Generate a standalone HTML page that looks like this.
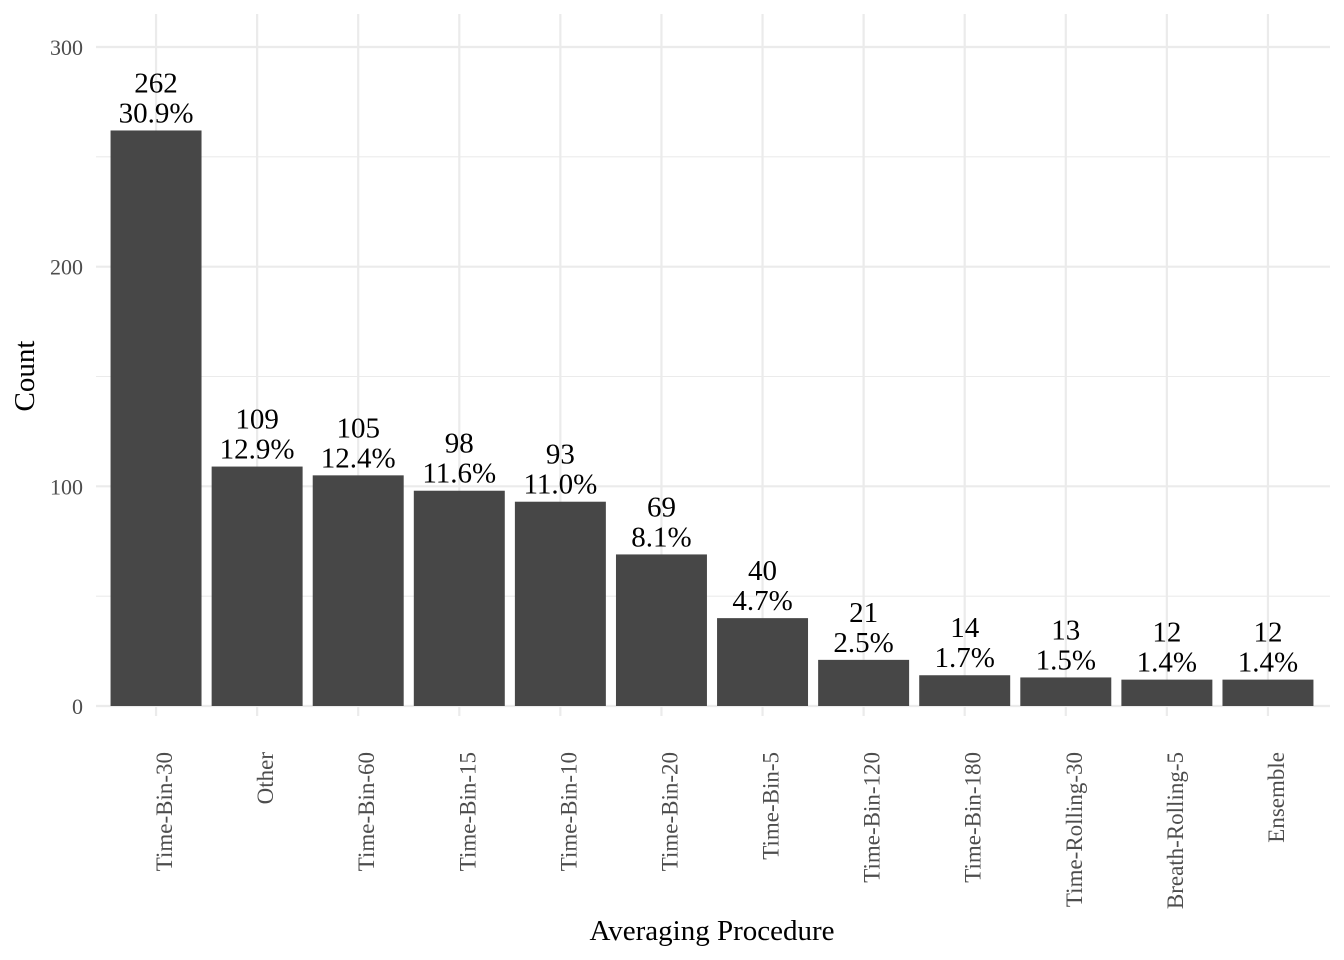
<!DOCTYPE html>
<html><head><meta charset="utf-8"><style>
body{margin:0;background:#fff;}
svg{display:block;font-family:"Liberation Serif",serif;}
</style></head><body>
<svg id="chart" width="1344" height="960" viewBox="0 0 1344 960" xmlns="http://www.w3.org/2000/svg"></svg>
<script>
const categories = ["Time-Bin-30","Other","Time-Bin-60","Time-Bin-15","Time-Bin-10","Time-Bin-20","Time-Bin-5","Time-Bin-120","Time-Bin-180","Time-Rolling-30","Breath-Rolling-5","Ensemble"];
const counts = [262,109,105,98,93,69,40,21,14,13,12,12];
const yTicks = [0,100,200,300];
const yMinor = [50,150,250];

const NS="http://www.w3.org/2000/svg";
const svgEl=document.getElementById('chart');
const gridLeft=96,gridRight=1330,plotTop=14,plotBottom=716;
const bandLeft=105.5,bandRight=1318.5;
const baseY=706, pxPerUnit=(706-47)/300;
function yScale(v){return baseY - v*pxPerUnit;}
const step=(bandRight-bandLeft)/categories.length;
function xScale(i){return bandLeft+step*(i+0.5);}
const bw=step*0.9;
function mk(tag,attrs,text){const e=document.createElementNS(NS,tag);for(const k in attrs)e.setAttribute(k,attrs[k]);if(text!==undefined)e.textContent=text;svgEl.appendChild(e);return e;}

yMinor.forEach(v=>{const l=mk('line',{x1:gridLeft,x2:gridRight,y1:yScale(v),y2:yScale(v),stroke:'#ebebeb','stroke-width':1.1});

});
yTicks.forEach(v=>{const l=mk('line',{x1:gridLeft,x2:gridRight,y1:yScale(v),y2:yScale(v),stroke:'#ebebeb','stroke-width':2.2});


const t=mk('text',{x:83,y:yScale(v)+8,'text-anchor':'end','font-size':22,fill:'#4d4d4d'},String(v));

});
categories.forEach((c,i)=>{const l=mk('line',{x1:xScale(i),x2:xScale(i),y1:plotTop,y2:plotBottom,stroke:'#ebebeb','stroke-width':2.2});

});

const total=counts.reduce((a,b)=>a+b,0);
categories.forEach((c,i)=>{
  const v=counts[i];
  const r=mk('rect',{x:xScale(i)-bw/2,y:yScale(v),width:bw,height:yScale(0)-yScale(v),fill:'#474747'});
  
  
  const t1=mk('text',{x:xScale(i),y:yScale(v)-38,'text-anchor':'middle','font-size':29,fill:'#000'},String(v));
  
  
  const t2=mk('text',{x:xScale(i),y:yScale(v)-8,'text-anchor':'middle','font-size':29,fill:'#000'},(v/total*100).toFixed(1)+'%');
  
  
  const xl=mk('text',{x:0,y:0,'text-anchor':'end','font-size':23,fill:'#4d4d4d',transform:`translate(${xScale(i)+16},752) rotate(-90)`},c);
  
  
});
const yt=mk('text',{x:0,y:0,'text-anchor':'middle','font-size':29,fill:'#000',transform:'translate(34,376) rotate(-90)'},'Count');


const xt=mk('text',{x:712,y:940,'text-anchor':'middle','font-size':29,fill:'#000'},'Averaging Procedure');


</script>
</body></html>
